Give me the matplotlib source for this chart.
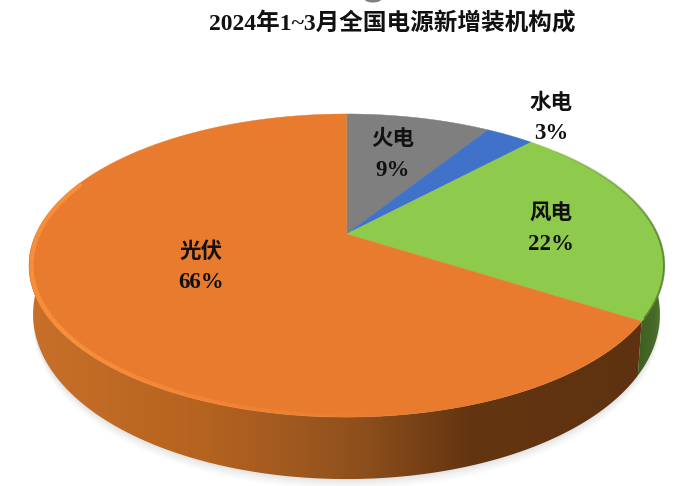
"""
3D-look pie of new power capacity, drawn in pixel coordinates
"""

import numpy as np
import matplotlib
matplotlib.use('Agg')
import matplotlib.pyplot as plt
from matplotlib.patches import Polygon, Ellipse
from matplotlib.collections import LineCollection
from matplotlib.colors import LinearSegmentedColormap

plt.rcParams['font.family'] = ['Noto Sans CJK SC', 'DejaVu Sans']

title = '2024年1~3月全国电源新增装机构成'
labels = ['火电', '水电', '风电', '光伏']
shares = [9, 3, 22, 66]
colors = ['#7f7f7f', '#3f72c8', '#8ecb4c', '#e97b2e']


# pie geometry: tilted disc, apex and near/far edges
CX, CY = 346.5, 234
A, B, K = 310.6, 145, 0.208


def project(theta, shrink=1.0):
    """theta runs clockwise from 12 o'clock"""
    u, v = np.sin(theta), np.cos(theta)
    w = 1 + K * v
    return CX + shrink * A * u / w, CY - shrink * B * v / w


def rim(start, end, n=200, shrink=1.0):
    t = np.linspace(start, end, n)
    return np.column_stack(project(t, shrink))


def lower_rim(start, end, n=200):
    # wall is deepest at the front and narrows a little to the sides
    t = np.linspace(start, end, n)
    x, y = project(t)
    return np.column_stack([CX + (x - CX) * 0.987, y + 45 - 17 * np.cos(t)])


fig = plt.figure(figsize=(7, 4.86), dpi=100, facecolor='white')
ax = fig.add_axes([0, 0, 1, 1])
ax.set_xlim(0, 700)
ax.set_ylim(486, 0)
ax.axis('off')

edges = np.concatenate([[0], np.cumsum(shares)]) / sum(shares) * 2 * np.pi
green_orange = edges[3]

# grey blob cut off by the top edge
ax.add_patch(Ellipse((373, -1), 17, 7, fc='#808080', ec='none', zorder=1))

# soft shadow under the side wall
full = lower_rim(np.pi / 2, 3 * np.pi / 2, 300)
for grow, alpha in zip([10, 8, 6, 4, 2], [0.03, 0.03, 0.04, 0.05, 0.06]):
    pts = np.vstack([full + [0, grow], [[full[-1, 0] - grow * 0.4, 300], [full[0, 0] + grow * 0.4, 300]]])
    ax.add_patch(Polygon(pts, closed=True, fc='#8a8a8a', ec='none', alpha=alpha, zorder=1))


def side_wall(start, end, stops):
    top = rim(start, end)
    bottom = lower_rim(start, end)[::-1]
    pts = np.vstack([top, bottom])
    poly = Polygon(pts, closed=True, fc='none', ec='none', zorder=2)
    ax.add_patch(poly)
    cmap = LinearSegmentedColormap.from_list('side', stops)
    grad = np.linspace(0, 1, 256).reshape(1, -1)
    im = ax.imshow(grad, cmap=cmap, extent=[pts[:, 0].min(), pts[:, 0].max(), 486, 0],
                   aspect='auto', zorder=2)
    im.set_clip_path(poly)


# visible walls, orange across the front, green at the far right
side_wall(green_orange, 3 * np.pi / 2,
          [(0, '#c8702a'), (0.28, '#b5631f'), (0.42, '#a25a20'), (0.55, '#8c4e1c'),
           (0.72, '#643510'), (1, '#5e3210')])
side_wall(np.pi / 2, green_orange, [(0, '#3f5f20'), (0.6, '#46692a'), (1, '#55802f')])
ax.set_xlim(0, 700)
ax.set_ylim(486, 0)

# top face
for start, end, color in zip(edges[:-1], edges[1:], colors):
    pts = np.vstack([[CX, CY], rim(start, end)])
    ax.add_patch(Polygon(pts, closed=True, fc=color, ec=color, lw=0.3, zorder=4))

# bevel highlight on the lit part of the rim, fading toward the front
bevel = rim(np.radians(172), np.radians(292), 120, shrink=0.992)
segs = np.stack([bevel[:-1], bevel[1:]], axis=1)
fade = np.clip(np.linspace(0, 2.2, len(segs)), 0, 1)
bevel_rgba = np.column_stack([np.tile([0.97, 0.56, 0.23], (len(segs), 1)), fade])
ax.add_collection(LineCollection(segs, colors=bevel_rgba, linewidths=3, zorder=5))

# dark soft edge on the green rim
green_edge = rim(np.radians(50), green_orange - 0.02, 100)
segs = np.stack([green_edge[:-1], green_edge[1:]], axis=1)
fade = np.clip(np.linspace(0.1, 1.3, len(segs)), 0, 0.8)
green_rgba = np.column_stack([np.tile([0.3, 0.47, 0.16], (len(segs), 1)), fade])
ax.add_collection(LineCollection(segs, colors=green_rgba, linewidths=1.5, zorder=5))

ax.text(392, 24, title, ha='center', va='center', fontsize=17, fontweight='bold',
        family=['Liberation Serif', 'Noto Sans CJK SC'], color='#111111')

# name above, percentage below
label_pos = [(393, 138, 170), (551, 102, 133), (551, 213, 244), (201, 251, 282)]
for name, share, (x, y1, y2) in zip(labels, shares, label_pos):
    ax.text(x, y1, name, ha='center', va='center', fontsize=15.5, fontweight='bold',
            family=['Noto Sans CJK SC'], color='#111111', zorder=6)
    ax.text(x, y2, f'{share}%', ha='center', va='center', fontsize=16.5, fontweight='bold',
            family=['Liberation Serif'], color='#111111', zorder=6)

plt.savefig('out.png', dpi=100, facecolor='white')
